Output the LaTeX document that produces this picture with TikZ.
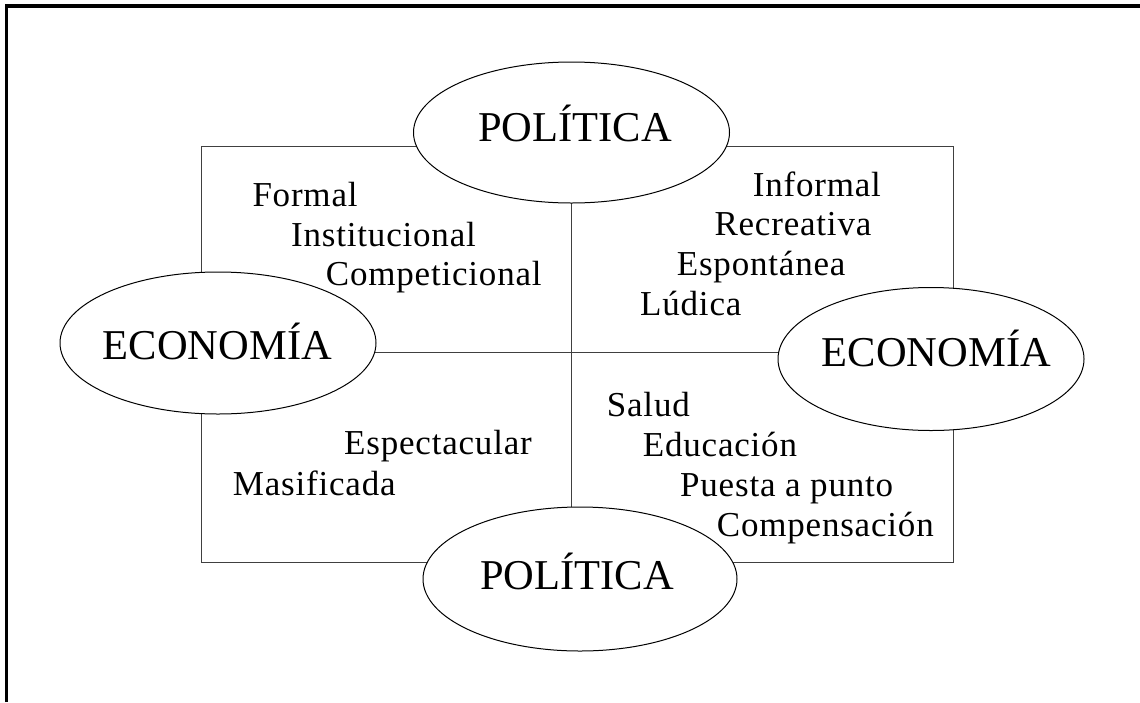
\documentclass[tikz,border=0pt]{standalone}
\usepackage{fontspec}
\setmainfont{Liberation Serif}
\newfontfamily\spacedserif[LetterSpace=2.3]{Liberation Serif}
\usetikzlibrary{shapes.geometric}
\tikzset{
  oval/.style={ellipse, draw=black, line width=1pt, fill=white, inner sep=0pt},
  bigtxt/.style={anchor=base west, inner sep=0pt, font=\fontsize{42.5}{50}\selectfont},
  smtxt/.style={anchor=base west, inner sep=0pt, font=\spacedserif\fontsize{35}{42}\selectfont},
  boxline/.style={draw=black!75, line width=1pt},
  frameline/.style={draw=black, line width=3.2pt}
}
\begin{document}
\begin{tikzpicture}[x=1pt,y=-1pt]
\useasboundingbox (0,0) rectangle (1140,702);
% outer frame (top and left only)
\coordinate (fbl) at (6.5,702);
\coordinate (ftl) at (6.5,6);
\coordinate (ftr) at (1140,6);
\draw[frameline] (fbl) -- (ftl) -- (ftr);
% central box and cross
\coordinate (bnw) at (201,146);
\coordinate (bse) at (953,562);
\coordinate (vt) at (571.7,146);
\coordinate (vb) at (571.7,562);
\coordinate (hl) at (201,352.7);
\coordinate (hr) at (953,352.7);
\draw[boxline] (bnw) rectangle (bse);
\draw[boxline] (vt) -- (vb);
\draw[boxline] (hl) -- (hr);
% ellipses
\node[oval, minimum width=316pt, minimum height=141pt] (poltop) at (571.5,132.5) {};
\node[oval, minimum width=314pt, minimum height=144pt] (polbot) at (580,579) {};
\node[oval, minimum width=316pt, minimum height=142pt] (ecoleft) at (218,343) {};
\node[oval, minimum width=306pt, minimum height=143pt] (ecoright) at (931,359) {};
% ellipse labels
\node[bigtxt] (tpoltop) at (478,141.7) {POLÍTICA};
\node[bigtxt] (tpolbot) at (480,589.3) {POLÍTICA};
\node[bigtxt] (tecoleft) at (102.7,359.3) {ECONOMÍA};
\node[bigtxt] (tecoright) at (821.7,366.7) {ECONOMÍA};
% quadrant texts
\node[smtxt] (q1a) at (252.3,206) {Formal};
\node[smtxt] (q1b) at (291,246) {Institucional};
\node[smtxt] (q1c) at (325.7,285.5) {Competicional};
\node[smtxt] (q2a) at (752.7,196) {Informal};
\node[smtxt] (q2b) at (714.3,235.7) {Recreativa};
\node[smtxt] (q2c) at (676.7,275) {Espontánea};
\node[smtxt] (q2d) at (640,315) {Lúdica};
\node[smtxt] (q3a) at (344,454) {Espectacular};
\node[smtxt] (q3b) at (232.7,495) {Masificada};
\node[smtxt] (q4a) at (606.7,416) {Salud};
\node[smtxt] (q4b) at (642.7,456) {Educación};
\node[smtxt] (q4c) at (680,496.7) {Puesta a punto};
\node[smtxt] (q4d) at (716.7,536.7) {Compensación};
\end{tikzpicture}
\end{document}
